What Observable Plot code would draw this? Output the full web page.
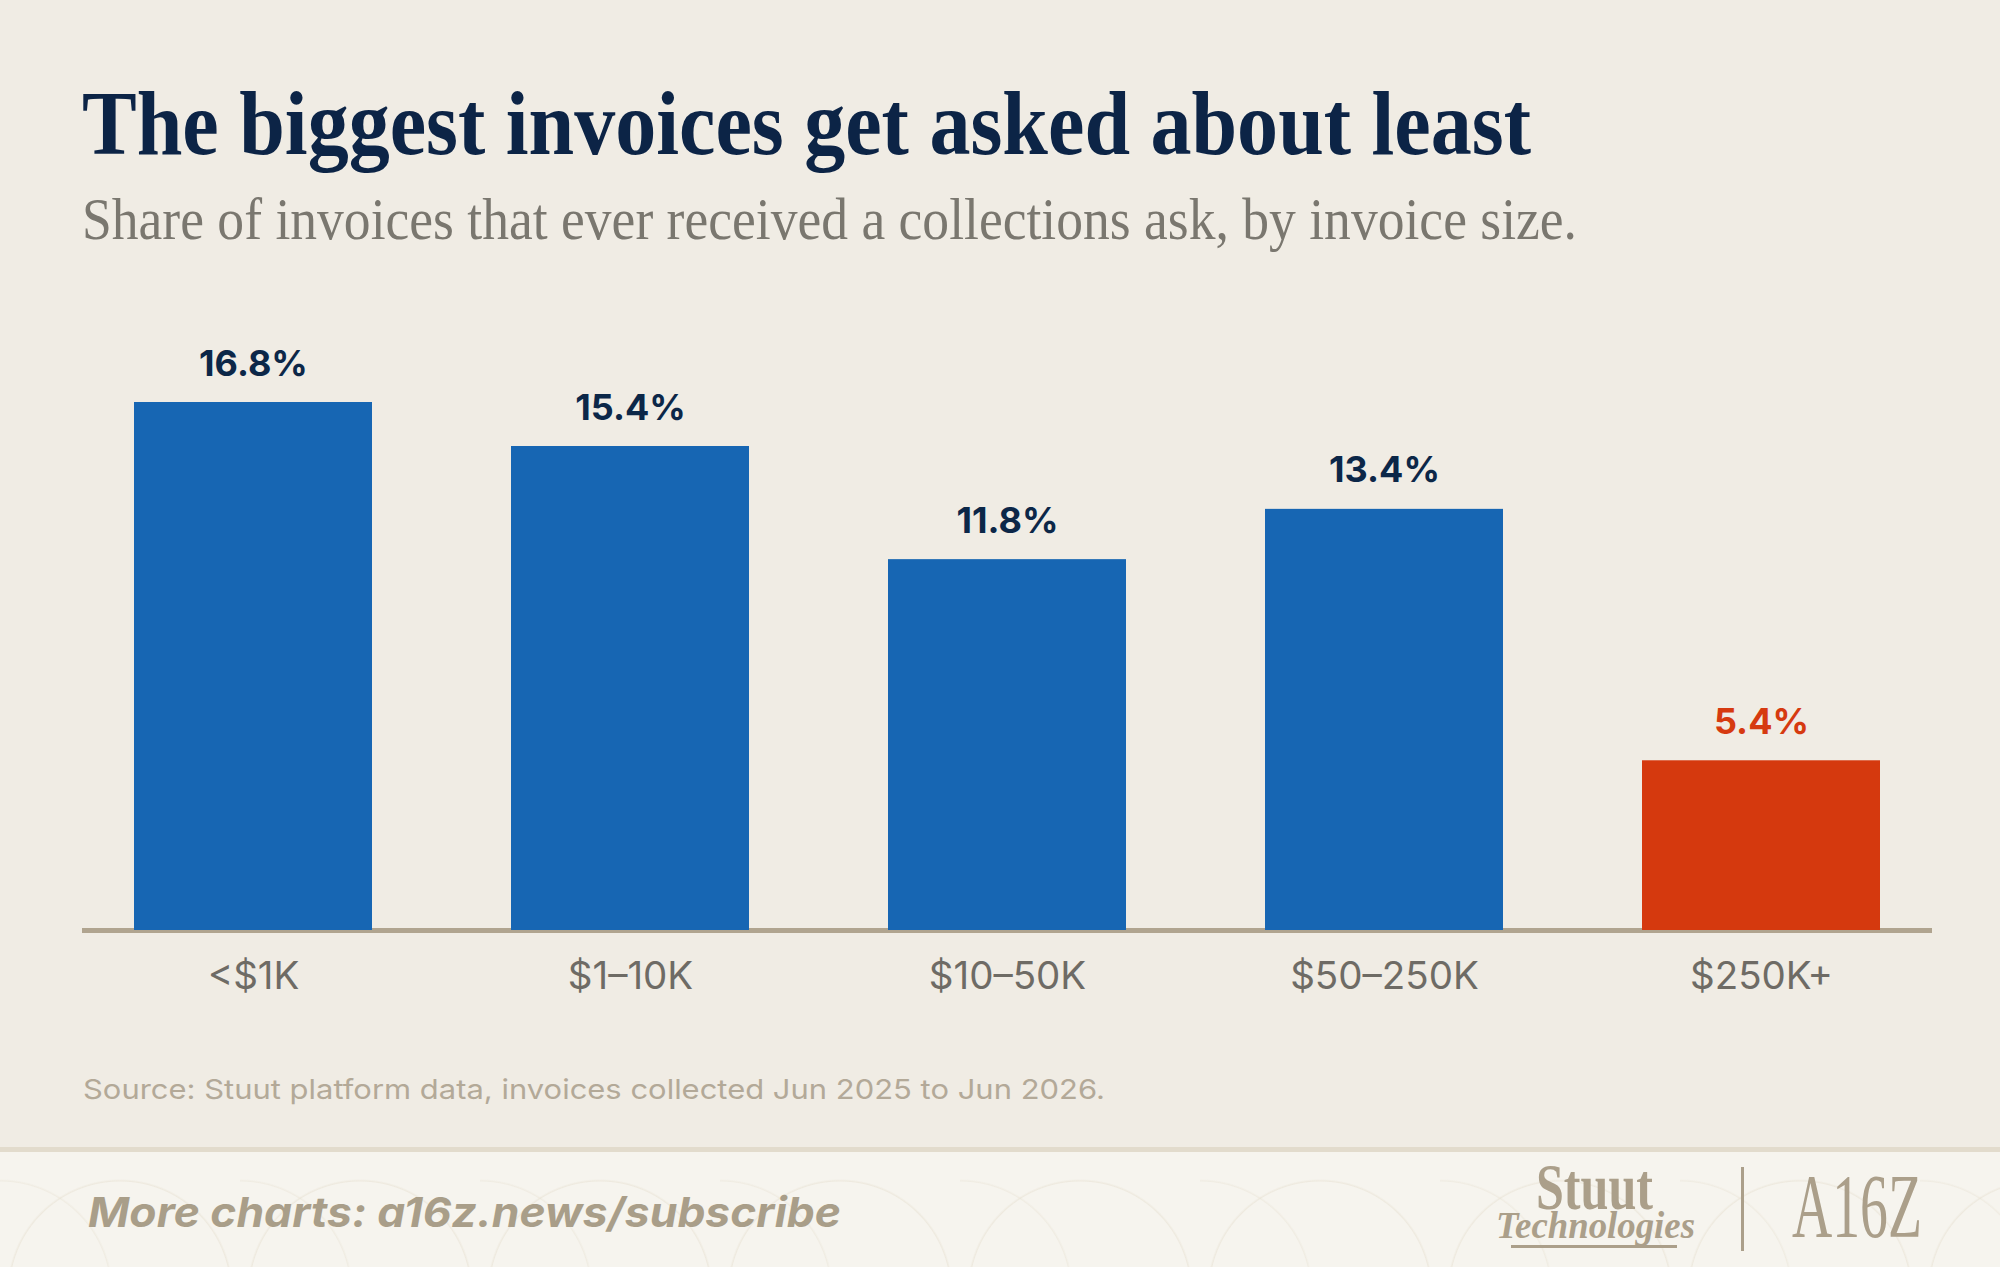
<!DOCTYPE html>
<html>
<head>
<meta charset="utf-8">
<script src="https://cdn.jsdelivr.net/npm/d3@7"></script>
<script src="https://cdn.jsdelivr.net/npm/@observablehq/plot@0.6"></script>
<style>
  html, body { margin: 0; padding: 0; background: #f0ece4; }
  #page { position: relative; width: 2000px; height: 1267px; overflow: hidden; background: #f0ece4; }
  .t { position: absolute; white-space: nowrap; line-height: 1; transform-origin: 0 0; }
  #title { font-family: "Liberation Serif", serif; font-weight: 700; font-size: 92px; color: #0c2446; left: 82px; top: 77px; }
  #subtitle { font-family: "Liberation Serif", serif; font-weight: 400; font-size: 60px; color: #7a776f; left: 82px; top: 189px; }
  #chart { position: absolute; left: 0; top: 240px; }
  #source { font-family: Inter, sans-serif; font-weight: 400; font-size: 27.5px; color: #b3a998; left: 83px; top: 1076px; }
  #band { position: absolute; left: 0; top: 1147px; width: 2000px; height: 5px; background: #e2dbcc; }
  #footer { position: absolute; left: 0; top: 1152px; width: 2000px; height: 115px; background-color: #f6f4ee;
    background-image: radial-gradient(circle at 50% 100%, transparent 110px, rgba(226,218,200,0.40) 111px, transparent 113px),
                      radial-gradient(circle at 0% 100%, transparent 110px, rgba(226,218,200,0.30) 111px, transparent 113px);
    background-size: 240px 160px; background-position: 0 -20px; }
  #more { font-family: Inter, sans-serif; font-weight: 700; font-style: italic; font-size: 41px; color: #a99e89; left: 88px; top: 1192px; }
  #stuut { font-family: "Liberation Serif", serif; font-weight: 700; font-size: 65px; line-height: 0.7; color: #ab9f8a; left: 1536px; top: 1165px; }
  #tech { font-family: "Liberation Serif", serif; font-weight: 700; font-style: italic; font-size: 38px; line-height: 0.7; color: #ab9f8a; left: 1496px; top: 1212px; }
  #underline { position: absolute; left: 1511px; top: 1245px; width: 166px; height: 3px; background: #ab9f8a; }
  #divider { position: absolute; left: 1741px; top: 1167px; width: 3px; height: 84px; background: #ab9f8a; }
  #a16z { font-family: "Liberation Serif", serif; font-weight: 400; font-size: 90px; color: #ab9f8a; left: 1792px; top: 1162px; }
</style>
</head>
<body>
<div id="page">
  <div class="t" id="title" data-w="1449">The biggest invoices get asked about least</div>
  <div class="t" id="subtitle" data-w="1495">Share of invoices that ever received a collections ask, by invoice size.</div>
  <div id="chart"></div>
  <div class="t" id="source" data-w="1022">Source: Stuut platform data, invoices collected Jun 2025 to Jun 2026.</div>
  <div id="band"></div>
  <div id="footer"></div>
  <div class="t" id="more" data-w="753">More charts: a16z.news/subscribe</div>
  <div class="t" id="stuut" data-w="117">Stuut</div>
  <div class="t" id="tech" data-w="199">Technologies</div>
  <div id="underline"></div>
  <div id="divider"></div>
  <div class="t" id="a16z" data-w="130">A16Z</div>
</div>
<script>
// ---- data ----
const categories = ["<$1K", "$1–10K", "$10–50K", "$50–250K", "$250K+"];
const shares = [16.8, 15.4, 11.8, 13.4, 5.4];
const highlightCategory = "$250K+";

const rows = categories.map((c, i) => ({ category: c, share: shares[i] }));
const blue = "#1766b3", red = "#d5390e";
const navy = "#0c2748", redText = "#d63a10";

const chart = Plot.plot({
  width: 2000,
  height: 800,
  marginLeft: 82,
  marginRight: 68,
  marginTop: 61.43,
  marginBottom: 110,
  style: { background: "transparent", fontFamily: "Inter, sans-serif", overflow: "visible" },
  x: { domain: categories, paddingInner: 0.37, paddingOuter: 0.135, axis: null, label: null },
  y: { domain: [0, 20], axis: null, label: null },
  marks: [
    Plot.ruleY([0], { stroke: "#b0a48f", strokeWidth: 5 }),
    Plot.barY(rows, { x: "category", y: "share", fill: d => d.category === highlightCategory ? red : blue }),
    Plot.text(rows, {
      x: "category", y: "share",
      text: d => d.share.toFixed(1) + "%",
      lineAnchor: "bottom", dy: -27,
      fontSize: 36, fontWeight: 700,
      fill: d => d.category === highlightCategory ? redText : navy
    }),
    Plot.axisX({ tickSize: 0, tickPadding: 31, fontSize: 38.5, fill: "#6e6b65", label: null })
  ]
});
document.getElementById("chart").appendChild(chart);

function fit() {
  document.querySelectorAll("[data-w]").forEach(el => {
    el.style.transform = "none";
    const w = el.getBoundingClientRect().width;
    const target = +el.dataset.w;
    el.style.transform = `scaleX(${target / w})`;
  });
}
fit();
if (document.fonts && document.fonts.ready) document.fonts.ready.then(fit);
</script>
</body>
</html>
